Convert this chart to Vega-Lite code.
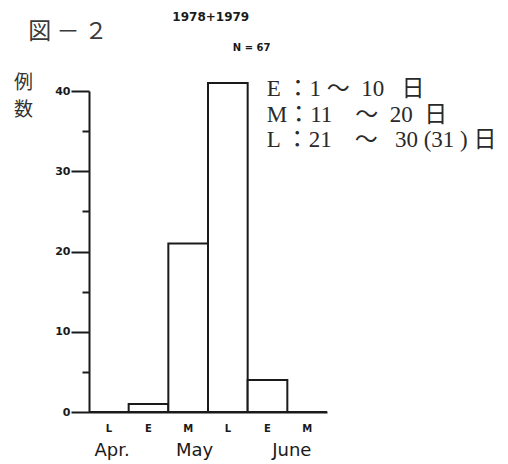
{
  "$schema": "https://vega.github.io/schema/vega-lite/v6.json",
  "width": 238,
  "height": 321,
  "autosize": {"type": "none"},
  "padding": {"left": 89, "top": 91, "right": 181, "bottom": 52},
  "background": "white",
  "config": {
    "view": {"stroke": null},
    "axis": {
      "grid": false,
      "domainColor": "#1a1a1a",
      "tickColor": "#1a1a1a",
      "labelColor": "#1a1a1a",
      "domainWidth": 2,
      "tickWidth": 2,
      "labelFont": "DejaVu Sans",
      "labelFontWeight": "bold"
    }
  },
  "resolve": {"scale": {"x": "independent", "y": "independent"}, "axis": {"x": "independent", "y": "independent"}},
  "layer": [
    {
      "data": {
        "values": [
          {"slot": "Apr. L", "count": 0},
          {"slot": "May E", "count": 1},
          {"slot": "May M", "count": 21},
          {"slot": "May L", "count": 41},
          {"slot": "June E", "count": 4},
          {"slot": "June M", "count": 0}
        ]
      },
      "mark": {"type": "bar", "fill": "white", "stroke": "#1a1a1a", "strokeWidth": 2},
      "encoding": {
        "x": {
          "field": "slot",
          "type": "ordinal",
          "sort": null,
          "scale": {"paddingInner": 0, "paddingOuter": 0},
          "axis": {
            "title": null,
            "labelExpr": "split(datum.value, ' ')[1]",
            "ticks": false,
            "labelAngle": 0,
            "labelPadding": 11,
            "labelFontSize": 10
          }
        },
        "y": {
          "field": "count",
          "type": "quantitative",
          "scale": {"domain": [0, 40], "nice": false},
          "axis": {
            "values": [0, 10, 20, 30, 40],
            "tickSize": 18,
            "labelPadding": 1,
            "labelFontSize": 11,
            "title": ["例", "数"],
            "titleAngle": 0,
            "titleX": -66,
            "titleY": -18,
            "titleAlign": "center",
            "titleBaseline": "top",
            "titleFont": "Noto Sans CJK JP",
            "titleFontSize": 19,
            "titleFontWeight": "normal",
            "titleColor": "#333333",
            "titleLineHeight": 27
          }
        }
      }
    },
    {
      "data": {"values": [{}]},
      "mark": {"type": "point", "opacity": 0},
      "encoding": {
        "x": {
          "datum": 0,
          "type": "quantitative",
          "scale": {"domain": [0, 6], "nice": false, "zero": false},
          "axis": {
            "orient": "bottom",
            "title": null,
            "values": [0.57, 2.65, 5.1],
            "labelExpr": "datum.value < 1 ? 'Apr.' : datum.value < 3 ? 'May' : 'June'",
            "domain": false,
            "ticks": false,
            "labelPadding": 29,
            "labelFontSize": 18,
            "labelFontWeight": "normal",
            "labelFont": "DejaVu Sans",
            "labelOverlap": false
          }
        },
        "y": {
          "datum": 0,
          "type": "quantitative",
          "scale": {"domain": [0, 40], "nice": false},
          "axis": {
            "orient": "left",
            "title": null,
            "values": [5, 15, 25, 35],
            "tickSize": 7,
            "labels": false,
            "domain": false
          }
        }
      }
    },
    {
      "data": {"values": [{}]},
      "mark": {"type": "text", "align": "left", "baseline": "middle", "font": "Noto Sans CJK JP", "fontSize": 23, "color": "#3a3a3a"},
      "encoding": {
        "x": {"datum": -1.53, "type": "quantitative", "scale": {"domain": [0, 6], "nice": false, "zero": false}, "axis": null},
        "y": {"datum": 47.3, "type": "quantitative", "scale": {"domain": [0, 40], "nice": false}, "axis": null},
        "text": {"value": "図 － ２"}
      }
    },
    {
      "data": {"values": [{}]},
      "mark": {"type": "text", "align": "center", "baseline": "middle", "font": "DejaVu Sans", "fontWeight": "bold", "fontSize": 12, "color": "#1a1a1a"},
      "encoding": {
        "x": {"datum": 3.07, "type": "quantitative", "scale": {"domain": [0, 6], "nice": false, "zero": false}, "axis": null},
        "y": {"datum": 49.2, "type": "quantitative", "scale": {"domain": [0, 40], "nice": false}, "axis": null},
        "text": {"value": "1978+1979"}
      }
    },
    {
      "data": {"values": [{}]},
      "mark": {"type": "text", "align": "center", "baseline": "middle", "font": "DejaVu Sans", "fontWeight": "bold", "fontSize": 10, "color": "#1a1a1a"},
      "encoding": {
        "x": {"datum": 4.1, "type": "quantitative", "scale": {"domain": [0, 6], "nice": false, "zero": false}, "axis": null},
        "y": {"datum": 45.4, "type": "quantitative", "scale": {"domain": [0, 40], "nice": false}, "axis": null},
        "text": {"value": "N = 67"}
      }
    },
    {
      "data": {"values": [{}]},
      "mark": {"type": "text", "align": "left", "baseline": "middle", "font": "Liberation Serif, Noto Sans CJK JP", "fontSize": 23, "lineHeight": 25.5, "color": "#2a2a2a"},
      "encoding": {
        "x": {"datum": 4.48, "type": "quantitative", "scale": {"domain": [0, 6], "nice": false, "zero": false}, "axis": null},
        "y": {"datum": 40.2, "type": "quantitative", "scale": {"domain": [0, 40], "nice": false}, "axis": null},
        "text": {"value": ["E ：1 〜\u200210 \u2002日", "M：11\u3000〜\u200220\u2002日", "L ：21\u3000〜 \u200230 (31 ) 日"]}
      }
    }
  ]
}
